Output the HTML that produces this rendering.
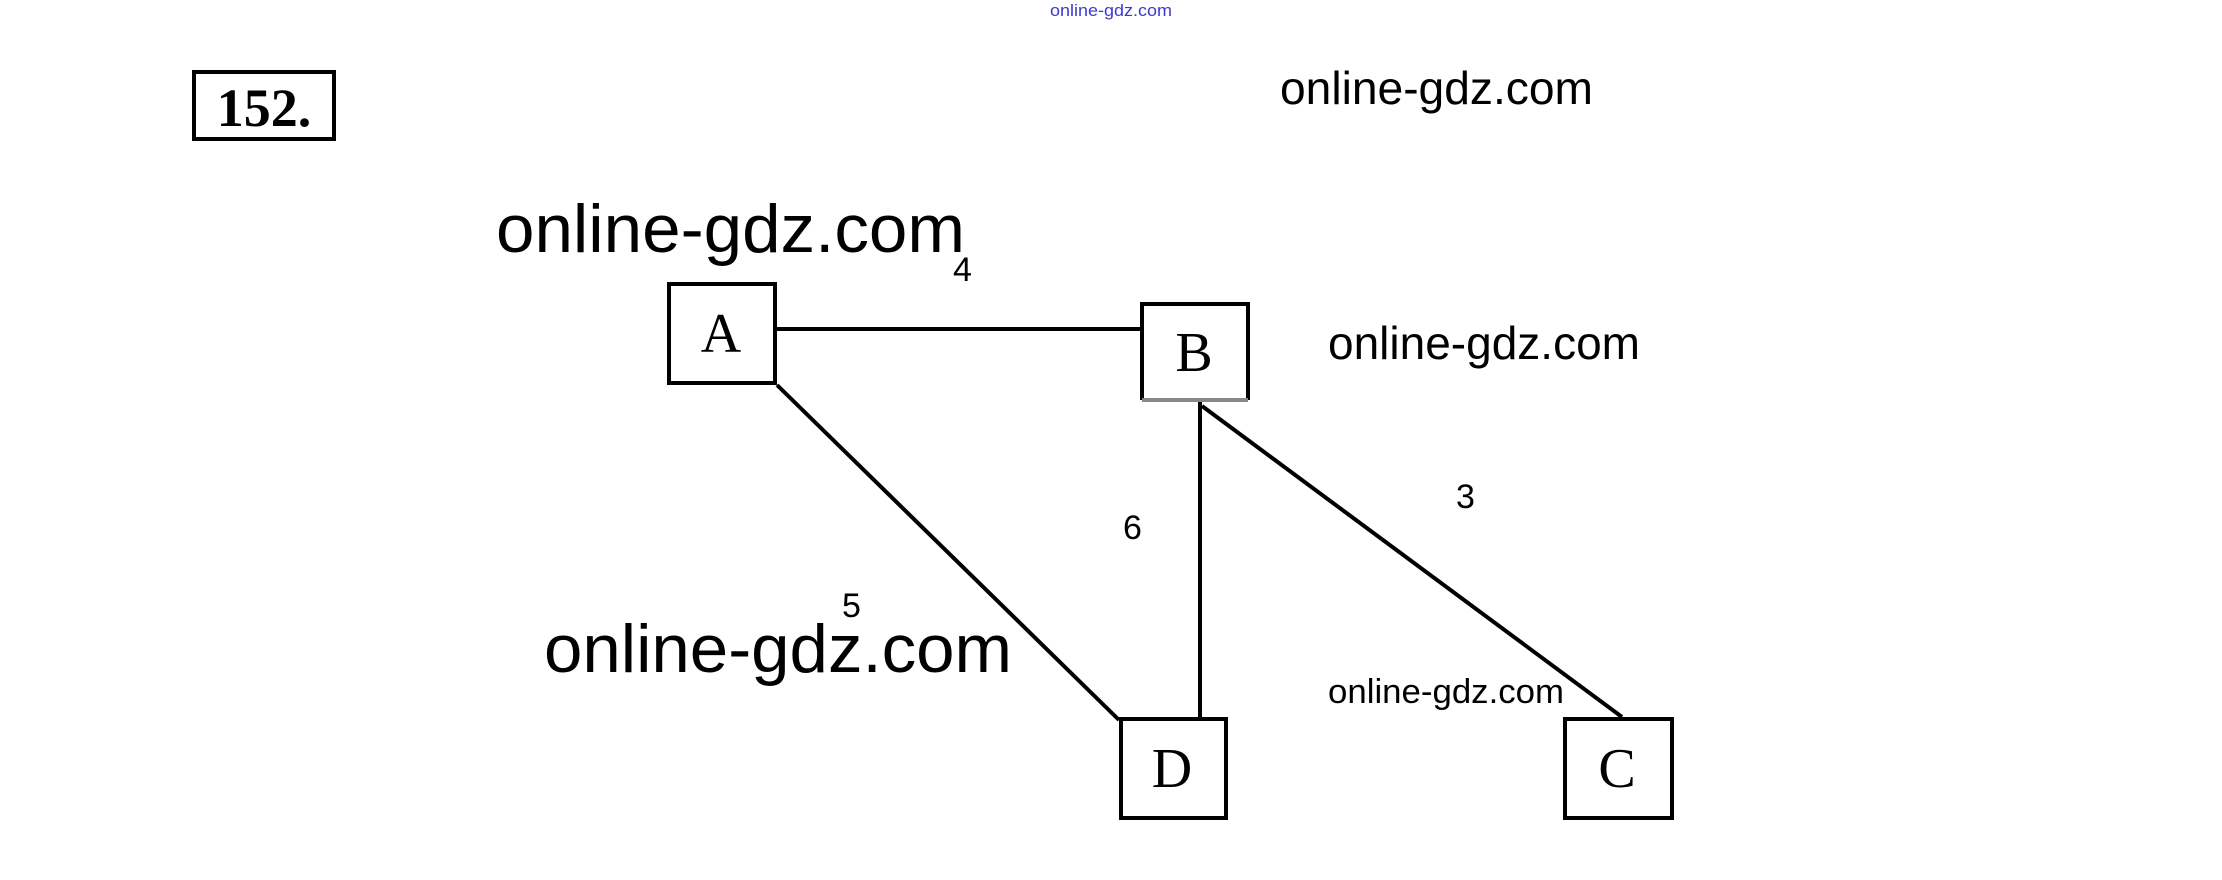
<!DOCTYPE html>
<html><head><meta charset="utf-8"><style>
html,body{margin:0;padding:0;background:#fff;}
svg{display:block;}
</style></head><body>
<svg width="2222" height="880" viewBox="0 0 2222 880" xmlns="http://www.w3.org/2000/svg">
<rect width="2222" height="880" fill="#fff"/>
<text x="1050" y="16" font-family="Liberation Sans, sans-serif" font-size="17" fill="#3a3ad0" textLength="122" lengthAdjust="spacingAndGlyphs">online-gdz.com</text>
<rect x="194" y="72" width="140" height="67" fill="none" stroke="#000" stroke-width="4"/>
<text x="264" y="126" text-anchor="middle" font-family="Liberation Serif, serif" font-weight="bold" font-size="54" fill="#000">152.</text>
<g font-family="Liberation Sans, sans-serif" fill="#000">
<text x="1280" y="104" font-size="46" textLength="313" lengthAdjust="spacingAndGlyphs">online-gdz.com</text>
<text x="496" y="252" font-size="68" textLength="469" lengthAdjust="spacingAndGlyphs">online-gdz.com</text>
<text x="1328" y="359" font-size="46" textLength="312" lengthAdjust="spacingAndGlyphs">online-gdz.com</text>
<text x="544" y="672" font-size="68" textLength="468" lengthAdjust="spacingAndGlyphs">online-gdz.com</text>
<text x="1328" y="703" font-size="34" textLength="236" lengthAdjust="spacingAndGlyphs">online-gdz.com</text>
<text x="953" y="281" font-size="34">4</text>
<text x="1123" y="539" font-size="34">6</text>
<text x="1456" y="508" font-size="34">3</text>
<text x="842" y="617" font-size="34">5</text>
</g>
<g stroke="#000" stroke-width="4" fill="none">
<line x1="775" y1="329" x2="1142" y2="329"/>
<line x1="777" y1="385" x2="1119" y2="720"/>
<line x1="1200" y1="402" x2="1200" y2="717"/>
<line x1="1202" y1="406" x2="1622" y2="717"/>
<rect x="669" y="284" width="106" height="99"/>
<path d="M1142 400 V304 H1248 V400"/>
<rect x="1121" y="719" width="105" height="99"/>
<rect x="1565" y="719" width="107" height="99"/>
</g>
<line x1="1142" y1="400" x2="1248" y2="400" stroke="#888" stroke-width="4"/>
<g font-family="Liberation Serif, serif" font-size="56" fill="#000" text-anchor="middle">
<text x="721" y="352">A</text>
<text x="1194" y="371">B</text>
<text x="1172" y="787">D</text>
<text x="1617" y="787">C</text>
</g>
</svg>
</body></html>
